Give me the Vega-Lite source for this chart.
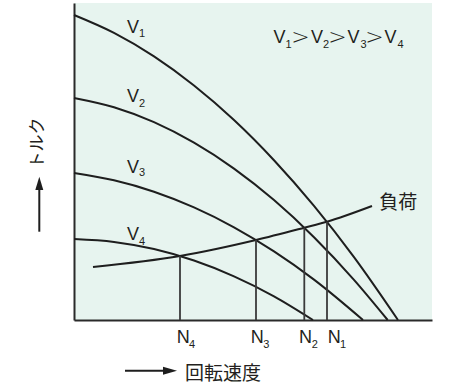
{
  "$schema": "https://vega.github.io/schema/vega-lite/v6.json",
  "width": 358,
  "height": 317,
  "autosize": "none",
  "padding": {"left": 74, "top": 3, "right": 35, "bottom": 72},
  "background": "white",
  "view": {"fill": "#e7f4ef", "stroke": null},
  "config": {
    "axis": {"ticks": false, "labels": false, "grid": false, "domainColor": "#2a2a2a", "domainWidth": 2}
  },
  "datasets": {
    "curves": [
      {"s": "V1", "x": 0, "y": 305}, {"s": "V1", "x": 40, "y": 287.1}, {"s": "V1", "x": 80, "y": 263.6},
      {"s": "V1", "x": 120, "y": 234.5}, {"s": "V1", "x": 160, "y": 200}, {"s": "V1", "x": 200, "y": 159.8},
      {"s": "V1", "x": 240, "y": 114.1}, {"s": "V1", "x": 280, "y": 62.9}, {"s": "V1", "x": 324, "y": 0},
      {"s": "V2", "x": 0, "y": 222}, {"s": "V2", "x": 40, "y": 212.7}, {"s": "V2", "x": 80, "y": 197.8},
      {"s": "V2", "x": 120, "y": 177.3}, {"s": "V2", "x": 160, "y": 151.4}, {"s": "V2", "x": 200, "y": 119.9},
      {"s": "V2", "x": 240, "y": 82.8}, {"s": "V2", "x": 280, "y": 40.2}, {"s": "V2", "x": 313.7, "y": 0},
      {"s": "V3", "x": 0, "y": 147}, {"s": "V3", "x": 40, "y": 139.7}, {"s": "V3", "x": 80, "y": 128.3},
      {"s": "V3", "x": 120, "y": 112.6}, {"s": "V3", "x": 160, "y": 92.7}, {"s": "V3", "x": 200, "y": 68.6},
      {"s": "V3", "x": 240, "y": 40.4}, {"s": "V3", "x": 289, "y": 0},
      {"s": "V4", "x": 0, "y": 81}, {"s": "V4", "x": 40, "y": 78.1}, {"s": "V4", "x": 80, "y": 71},
      {"s": "V4", "x": 120, "y": 59.5}, {"s": "V4", "x": 160, "y": 43.7}, {"s": "V4", "x": 200, "y": 23.7},
      {"s": "V4", "x": 239, "y": 0},
      {"s": "load", "x": 19, "y": 53}, {"s": "load", "x": 106, "y": 64}, {"s": "load", "x": 182, "y": 80},
      {"s": "load", "x": 230.3, "y": 92.3}, {"s": "load", "x": 253, "y": 98.3}, {"s": "load", "x": 298, "y": 114}
    ],
    "drops": [
      {"n": "N4", "x": 106, "y": 0, "y2": 64},
      {"n": "N3", "x": 182, "y": 0, "y2": 80},
      {"n": "N2", "x": 230.3, "y": 0, "y2": 92.3},
      {"n": "N1", "x": 253, "y": 0, "y2": 98.3}
    ],
    "mainText": [
      {"t": "V", "x": 53, "y": 287},
      {"t": "V", "x": 53, "y": 218.3},
      {"t": "V", "x": 53, "y": 147.3},
      {"t": "V", "x": 53, "y": 80},
      {"t": "V", "x": 199.5, "y": 276.7},
      {"t": "V", "x": 237, "y": 276.7},
      {"t": "V", "x": 273.5, "y": 276.7},
      {"t": "V", "x": 310.5, "y": 276.7},
      {"t": "N", "x": 102.7, "y": -23.3},
      {"t": "N", "x": 176.7, "y": -23.3},
      {"t": "N", "x": 225, "y": -23.3},
      {"t": "N", "x": 253.7, "y": -23.3}
    ],
    "subText": [
      {"t": "1", "x": 65, "y": 283},
      {"t": "2", "x": 65, "y": 213},
      {"t": "3", "x": 65, "y": 144.3},
      {"t": "4", "x": 65, "y": 75},
      {"t": "1", "x": 211.5, "y": 272},
      {"t": "2", "x": 249, "y": 272},
      {"t": "3", "x": 286.5, "y": 272},
      {"t": "4", "x": 323.5, "y": 272},
      {"t": "4", "x": 115, "y": -27.7},
      {"t": "3", "x": 189.3, "y": -27.7},
      {"t": "2", "x": 237.7, "y": -27.7},
      {"t": "1", "x": 266, "y": -27.7}
    ],
    "gtText": [
      {"t": ">", "x": 226.5, "y": 283.3},
      {"t": ">", "x": 263.5, "y": 283.3},
      {"t": ">", "x": 300.5, "y": 283.3}
    ],
    "jpText": [
      {"t": "負荷", "x": 305.3, "y": 116.7},
      {"t": "回転速度", "x": 111, "y": -53.5}
    ],
    "yTitle": [
      {"t": "トルク", "x": -36.5, "y": 177}
    ],
    "arrows": [
      {"x": 51, "x2": 91, "y": -50.7, "y2": -50.7},
      {"x": -34.7, "x2": -34.7, "y": 88.3, "y2": 132}
    ],
    "headX": [{"x": 96, "y": -50.7}],
    "headY": [{"x": -34.7, "y": 136.7}]
  },
  "layer": [
    {
      "data": {"name": "curves"},
      "mark": {"type": "line", "interpolate": "monotone", "color": "#1e1e1e", "strokeWidth": 2},
      "encoding": {
        "x": {"field": "x", "type": "quantitative", "scale": {"domain": [0, 358], "nice": false, "zero": false}, "title": null},
        "y": {"field": "y", "type": "quantitative", "scale": {"domain": [0, 317], "nice": false, "zero": false}, "title": null},
        "detail": {"field": "s"}
      }
    },
    {
      "data": {"name": "drops"},
      "mark": {"type": "rule", "color": "#3a3a3a", "strokeWidth": 1.8},
      "encoding": {
        "x": {"field": "x", "type": "quantitative", "title": null},
        "y": {"field": "y", "type": "quantitative", "title": null},
        "y2": {"field": "y2"}
      }
    },
    {
      "data": {"name": "mainText"},
      "mark": {"type": "text", "font": "Liberation Sans Narrow, Liberation Sans, Arial, sans-serif", "fontSize": 18, "align": "left", "baseline": "alphabetic", "color": "#231f20"},
      "encoding": {
        "x": {"field": "x", "type": "quantitative", "title": null},
        "y": {"field": "y", "type": "quantitative", "title": null},
        "text": {"field": "t"}
      }
    },
    {
      "data": {"name": "subText"},
      "mark": {"type": "text", "font": "Liberation Sans Narrow, Liberation Sans, Arial, sans-serif", "fontSize": 11, "align": "left", "baseline": "alphabetic", "color": "#231f20"},
      "encoding": {
        "x": {"field": "x", "type": "quantitative", "title": null},
        "y": {"field": "y", "type": "quantitative", "title": null},
        "text": {"field": "t"}
      }
    },
    {
      "data": {"name": "gtText"},
      "mark": {"type": "text", "font": "DejaVu Sans, Liberation Sans, sans-serif", "fontSize": 22, "fontWeight": 300, "align": "center", "baseline": "middle", "color": "#231f20"},
      "encoding": {
        "x": {"field": "x", "type": "quantitative", "title": null},
        "y": {"field": "y", "type": "quantitative", "title": null},
        "text": {"field": "t"}
      }
    },
    {
      "data": {"name": "jpText"},
      "mark": {"type": "text", "font": "Noto Sans CJK JP", "fontSize": 19, "align": "left", "baseline": "middle", "color": "#231f20"},
      "encoding": {
        "x": {"field": "x", "type": "quantitative", "title": null},
        "y": {"field": "y", "type": "quantitative", "title": null},
        "text": {"field": "t"}
      }
    },
    {
      "data": {"name": "yTitle"},
      "mark": {"type": "text", "font": "Noto Sans CJK JP", "fontSize": 17, "align": "center", "baseline": "middle", "angle": 270, "color": "#231f20"},
      "encoding": {
        "x": {"field": "x", "type": "quantitative", "title": null},
        "y": {"field": "y", "type": "quantitative", "title": null},
        "text": {"field": "t"}
      }
    },
    {
      "data": {"name": "arrows"},
      "mark": {"type": "rule", "color": "#1e1e1e", "strokeWidth": 2},
      "encoding": {
        "x": {"field": "x", "type": "quantitative", "title": null},
        "x2": {"field": "x2"},
        "y": {"field": "y", "type": "quantitative", "title": null},
        "y2": {"field": "y2"}
      }
    },
    {
      "data": {"name": "headX"},
      "mark": {"type": "point", "shape": "M-1,-0.57L1,0L-1,0.57Z", "size": 196, "filled": true, "opacity": 1, "color": "#1e1e1e", "strokeWidth": 0},
      "encoding": {
        "x": {"field": "x", "type": "quantitative", "title": null},
        "y": {"field": "y", "type": "quantitative", "title": null}
      }
    },
    {
      "data": {"name": "headY"},
      "mark": {"type": "point", "shape": "M-0.6,1L0,-1L0.6,1Z", "size": 177, "filled": true, "opacity": 1, "color": "#1e1e1e", "strokeWidth": 0},
      "encoding": {
        "x": {"field": "x", "type": "quantitative", "title": null},
        "y": {"field": "y", "type": "quantitative", "title": null}
      }
    }
  ]
}
